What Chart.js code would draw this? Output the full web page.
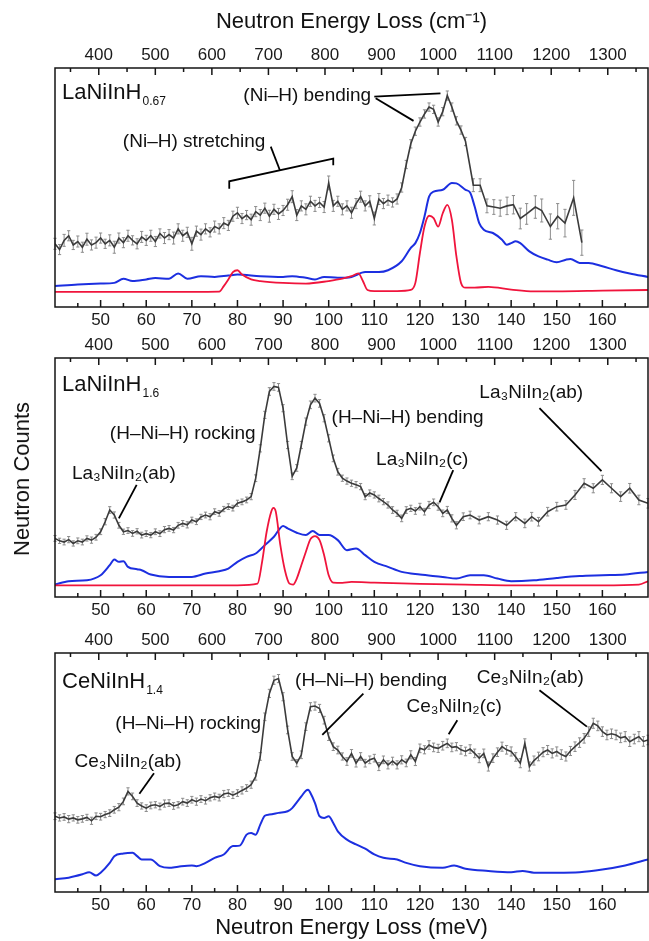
<!doctype html>
<html>

<head>
  <meta charset="utf-8">
  <title>INS spectra</title>
  <script src="https://cdn.jsdelivr.net/npm/chart.js"></script>
  <style>
    body { margin: 0; background: #fff; }
    #wrap { position: relative; width: 649px; height: 941px; overflow: hidden; }
    canvas { position: absolute; left: 0; }
    #ylab {
      position: absolute; left: 22px; top: 479px;
      transform: translate(-50%, -50%) rotate(-90deg);
      font: 22px "Liberation Sans", Arial, sans-serif; color: #111; white-space: nowrap;
    }
  </style>
</head>

<body>
<div id="wrap">
  <canvas id="c1" width="649" height="331" style="top:0px"></canvas>
  <canvas id="c2" width="649" height="291" style="top:331px"></canvas>
  <canvas id="c3" width="649" height="319" style="top:622px"></canvas>
  <div id="ylab">Neutron Counts</div>
</div>
<script>
    // axes
    const cmPerMeV = 8.0655;
    const meVTicks = [50, 60, 70, 80, 90, 100, 110, 120, 130, 140, 150, 160];
    const meVMinor = [45, 55, 65, 75, 85, 95, 105, 115, 125, 135, 145, 155, 165];
    const cmTicks = [400, 500, 600, 700, 800, 900, 1000, 1100, 1200, 1300];
    const cmMinor = [350, 450, 550, 650, 750, 850, 950, 1050, 1150, 1250, 1350];

    // ---- LaNiInH0.67 ----
    const exp1E = [40,41,42,43,44,45,46,47,48,49, 50,51,52,53,54,55,56,57,58,59,
        60,61,62,63,64,65,66,67,68,69, 70,71,72,73,74,75,76,77,78,79,
        80,81,82,83,84,85,86,87,88,89, 90,91,92,93,94,95,96,97,98,99,
        100,101,102,103,104,105,106,107,108,109, 110,111,112,113,114,115,116,117,118,119,
        120,121,122,123,124,125,126,127,128,129,130,
        131.7,133.2,134.7,136.2,137.6,139.1,140.5,142,143.4,145.3,146.7,148.6,150.2,151.8,153.7,155.5];
    const exp1V = [27.5,25,29,31,27,28.5,26,29.5,27,28, 30,27.5,29,26,30,28,31,29,27.5,30.5,
        29,31,28.5,32,30,31.5,30,34,31,32.5, 27.5,33,31.5,34,32.5,35,34,36.5,35.5,39.5,
        41,38.5,40,38,41.5,40,43,39.5,42.5,40.5, 42,44.5,48,40,44,42.5,46,44,45.5,43.5,
        54,44,46,42.5,44,41,45,48,44,46, 38.5,47,45,46.5,45.5,47,52,62,71,76.5,
        80.5,84,87,86,80.5,85,92,87,81,77,72,
        53,53,44,43.5,43,44,44.5,38.5,40.5,43.5,42,35,39.5,36.5,47.5,28];
    const exp1Err = [2.4,2.2,2.6,2.2,2.0,2.4,2.2,2.6,2.2,2.4, 2.2,2.0,2.4,2.6,2.2,2.2,2.4,2.0,2.2,2.4,
        2.2,2.4,2.2,2.0,2.4,2.2,2.6,2.2,2.4,2.2, 2.8,2.2,2.4,2.2,2.0,2.4,2.2,2.4,2.2,2.2,
        2.4,2.2,2.0,2.4,2.2,2.4,2.2,2.6,2.2,2.4, 2.2,2.4,2.6,2.4,2.2,2.4,2.2,2.4,2.2,2.4,
        3.0,2.4,2.2,2.4,2.2,2.4,2.2,2.4,2.2,2.4, 2.8,2.4,2.2,2.2,2.0,2.2,2.0,1.8,1.8,1.8,
        1.8,1.8,1.8,1.8,1.8,1.8,2.0,1.8,1.8,1.8,1.8,
        2.8,2.8,3.0,3.2,3.5,3.8,4.0,4.5,4.5,4.9,5.0,5.5,5.5,6.0,7.6,5.5];
    const calc1E = [40,45,50,53,55,57,60,62,65,67, 69,72,75,78,80,85,90,92,95,97,
        99,102,105,108,111,113,116,118,119,120, 121,122,123,125,127,128,130,131,132,133,
        134,136,138,139,140,141,142,144,146,148, 150,152,153,155,157,160,163,166,170];
    const calc1V = [9.1,9.8,10.2,10.5,12.3,11.3,12,12.6,12.3,14.6, 12.3,13.4,13.1,13.7,14.1,13.4,13.1,13.4,12.7,12,
        13.1,12.7,13.1,15.2,15.2,16,19.9,25.7,27.8,32.2, 39.4,48,50.2,51,54,53.8,51,49.8,43.7,36.5,
        33.6,32.2,29.3,27.1,27.8,28.6,27.8,24.2,22,20.6, 19.5,20.6,20.9,19.2,19.2,17.7,16,14.6,13.1];
    const dft1E = [40,50,60,70,76,77,78,79,80,81, 83,85,90,95,100,103,105,106.5,107.5,108.5,
        110,115,118,119,120,121,122,123,124,125, 126,127,128,129,130,132,135,140,145,150, 160,170];
    const dft1V = [6.6,6.6,6.6,6.6,6.7,9.1,12,15.2,16,14.1, 12,11.3,10.5,10.2,11.3,12.3,13.4,14.6,11.3,7.4,
        6.9,6.9,7.4,10.5,23.5,35,39.7,38.7,35,40.8, 44.4,38,22,10.5,8.4,8.4,8.8,7.6,6.8,6.8, 7.1,7.4];

    // ---- LaNiInH1.6 ----
    const exp2E = [40,41,42,43,44,45,46,47,48,49, 50,51,52,53,54,55,56,57,58,59,
        60,61,62,63,64,65,66,67,68,69, 70,71,72,73,74,75,76,77,78,79,
        80,81,82,83,84,85,86,87,88,89, 90,91,92,93,94,95,96,97,98,99,
        100,101,102,103,104,105,106,107,108,109, 110,111,112,113,114,115,116,117,118,119,
        120,121,122,123,124,125,126,127,128,
        129.5,131,133,135,137,139,141,143,144.5,146,148,150,152,154,156,158,160,162,164,166,168,170];
    const exp2V = [24.5,23.5,23,24,22.4,23.5,23,24.5,23.8,25, 27.3,31.5,36.4,34.3,30,27.3,27.8,26.6,27.5,25.9,
        26.5,25.9,27.3,26.5,28.2,28.7,28,30,30.8,30.2, 32.2,31.5,33.5,34.3,33.6,35.7,35,36.8,37.8,37.2,
        39.2,39.8,40.6,42,49.7,62.2,76.2,86,88.1,87.7, 79,63.6,50.5,54,63.6,73.4,80.4,83.2,81,74.8,
        66.4,58,52.4,49.7,48.5,47.6,47,46.2,42,43.5, 42.7,41.2,39.9,38.5,36.4,35,32.9,36.4,37.1,36,
        37.8,35.7,38.5,39.6,37.8,35,36.4,32.9,30,
        33.6,34.3,32.2,33.6,32.2,30,33.6,30.8,33.6,31.5,35.7,37.8,38.5,42.7,47.6,45.5,49,45.5,42,45.5,40.6,39.2];
    const exp2Err = [1.2,1.1,1.2,1.3,1.1,1.2,1.2,1.1,1.3,1.2, 1.2,1.3,1.4,1.3,1.2,1.1,1.2,1.2,1.1,1.2,
        1.2,1.1,1.2,1.2,1.3,1.2,1.1,1.2,1.2,1.3, 1.2,1.2,1.1,1.2,1.3,1.2,1.2,1.1,1.2,1.2,
        1.3,1.2,1.2,1.3,1.4,1.5,1.5,1.6,1.6,1.6, 1.5,1.5,1.4,1.4,1.5,1.5,1.6,1.6,1.6,1.5,
        1.5,1.4,1.4,1.3,1.3,1.3,1.3,1.3,1.3,1.3, 1.3,1.4,1.3,1.3,1.4,1.3,1.4,1.4,1.3,1.4,
        1.4,1.4,1.5,1.4,1.5,1.4,1.5,1.5,1.5,
        1.6,1.6,1.6,1.7,1.7,1.7,1.7,1.8,1.8,1.8,1.8,1.8,1.8,1.9,1.9,1.9,1.9,1.9,2.0,2.0,2.0,2.0];
    const calc2E = [40,43,47,50,52,53,54,55,56,58, 59,61,65,70,73,76,78,80,82,84,
        86,88,90,91,93,95,96.5,98,100,102, 104,106,108,110,113,116,120,125,128,131,
        134,137,140,145,150,155,160,165,170];
    const calc2V = [5.2,6.6,7,9.1,13.3,15.7,14.7,15,12.6,11.6, 11.2,9.4,8.4,8.4,9.8,10.8,11.9,14.7,16.8,18.2,
        21.7,25.2,29.7,28.7,26.9,25.9,27.6,25.9,25.9,23.8, 19.6,20.3,17.5,14.7,12.6,10.5,9.4,8.4,7.7,9.1,
        9.1,7.7,6.6,7,8,8.8,9.1,9.4,10.5];
    const dft2E = [40,60,80,84.4,85.4,86.4,87.4,87.9,88.4,89.4, 90.4,91.4,92.2,93,94,95,96,97,98,99,
        100,101,103,105,110,120,130,140,160,168, 170];
    const dft2V = [4.9,4.9,4.9,5.6,14.7,27.3,35.7,37.3,35.7,21.7, 11.2,5.6,5.2,7.7,13.3,18.9,24.2,25.5,23.8,17.5,
        9.1,6,5.9,6.3,6,5.5,5.2,4.9,4.9,5.2, 6.6];

    // ---- CeNiInH1.4 ----
    const exp3E = [40,41,42,43,44,45,46,47,48,49, 50,51,52,53,54,55,56,57,58,59,
        60,61,62,63,64,65,66,67,68,69, 70,71,72,73,74,75,76,77,78,79,
        80,81,82,83,84,85,86,87,88,89, 90,91,92,93,94,95,96,97,98,99,
        100,101,102,103,104,105,106,107,108,109, 110,111,112,113,114,115,116,117,118,119,
        120,121,122,123,124,125,126,127,128,129, 130,131,132,133,134,135,136,137,138,139,
        140,141,142,143,144,145,146,147,148,149, 150,151,152,153,154,155,156,157,158,159,
        160,161,162,163,164,165,166,167,168,169, 170];
    const exp3V = [31.7,31,31.4,30.5,31,30.2,30.6,31.2,29.8,31.7, 31.5,32.4,33,34.4,35.5,37.9,42.1,40,37.2,36,
        35.1,36.2,36.5,35.8,37,37.2,36,36.5,37.8,37.2, 38.6,37.8,38.9,38.2,39.4,40,39.5,41,41.4,40.5,
        41.4,42.5,43.5,44.9,48.3,56.7,73.3,83.1,88.6,89.3, 81.7,67.8,56.7,53.9,57.4,69.2,77.5,77.8,76.8,71.9,
        65,60.8,59.4,56.7,54.6,58,53.9,56.7,53.9,55.3, 56,52.5,55.3,53.2,54.8,53.2,55.3,54,57.4,54.6,
        60.1,59.5,61.5,60.5,60.1,61.2,62.2,60.5,60.8,59.5, 58.8,59.8,58,56,58,52.5,56,58.5,60.8,59.5,
        58.8,56.5,53.9,62.2,52.5,55,56.7,58.5,59.4,58, 58.8,57.5,56.7,59,60.8,62.5,64.3,67.1,70.6,69.5,
        67.1,65.7,66.2,65.7,64.5,65,62.9,64,65,63, 63.6];
    const exp3Err = [1.4,1.3,1.4,1.5,1.3,1.4,1.4,1.3,1.5,1.4, 1.4,1.3,1.4,1.4,1.5,1.4,1.5,1.4,1.4,1.3,
        1.4,1.4,1.3,1.4,1.5,1.4,1.4,1.3,1.4,1.4, 1.4,1.5,1.4,1.4,1.3,1.4,1.4,1.5,1.4,1.4,
        1.4,1.5,1.4,1.5,1.5,1.6,1.6,1.7,1.7,1.7, 1.7,1.6,1.6,1.5,1.6,1.6,1.7,1.7,1.7,1.6,
        1.6,1.6,1.6,1.5,1.6,1.6,1.6,1.6,1.6,1.6, 1.6,1.7,1.6,1.7,1.6,1.7,1.7,1.6,1.7,1.7,
        1.8,1.7,1.8,1.8,1.7,1.8,1.8,1.8,1.7,1.8, 1.8,1.8,1.8,1.9,1.8,1.9,1.8,1.8,1.9,1.8,
        1.9,1.8,1.9,1.9,1.9,1.9,1.8,1.9,1.9,1.9, 1.9,2.0,1.9,1.9,2.0,2.0,2.0,2.0,2.1,2.0,
        2.0,2.0,2.0,2.0,2.0,2.1,2.0,2.0,2.1,2.0, 2.0];
    const calc3E = [40,43,46,47.5,49,50,52,53,55,57, 58,59,61,63,65,67,70,71,73,75,
        77,79,80.5,82,83,84,85,86,87,89, 91,92,93,94,95,95.5,96,97,98,99,
        100,101,102,104,106,108,110,112,115,117, 120,125,127.5,130,135,140,142.5,145,150,155,
        160,165,170];
    const calc3V = [5.3,6,7.4,8.3,6.9,8.1,12.2,15,16.1,16.4, 15,13.6,13.6,10.8,10.1,10.6,11.1,10.8,12.2,14.3,
        15.7,19.2,19.4,24,24.7,24,28.2,31.9,32.4,33.1, 33.8,35.1,37.5,40,42.4,42.8,41.4,37.2,31.7,31,
        31.7,28.9,25.4,21.9,19.9,18.1,15.7,14.3,13.6,12.2, 10.8,10.1,11.1,9.7,8.8,8.3,8.8,8.1,8.1,8.3,
        9.4,11.1,13.6];

    // labels and leader lines, in (meV, counts) units
    const notes1 = [
        { text: '(Ni–H) bending', x: 95.3, y: 92 },
        { text: '(Ni–H) stretching', x: 70.5, y: 71.9 }
    ];
    const lines1 = [
        [[110, 91.5], [124.5, 93]],
        [[110.3, 90.8], [118.6, 81]],
        [[78.2, 51.5], [78.2, 54.7], [101, 64.6], [101, 61.7]],
        [[87.3, 69.8], [89.3, 59.5]]
    ];
    const notes2 = [
        { text: '(H–Ni–H) rocking', x: 68, y: 68.5 },
        { text: '(H–Ni–H) bending', x: 117.3, y: 74.8 },
        { text: 'La₃NiIn₂(ab)', x: 55.1, y: 51.7 },
        { text: 'La₃NiIn₂(c)', x: 120.5, y: 57.3 },
        { text: 'La₃NiIn₂(ab)', x: 144.4, y: 85.6 }
    ];
    const lines2 = [
        [[57.9, 46.9], [54, 32.9]],
        [[127.3, 53.1], [124.3, 39.6]],
        [[146.2, 79], [159.8, 52.7]]
    ];
    const notes3 = [
        { text: '(H–Ni–H) rocking', x: 69.2, y: 70.6 },
        { text: '(H–Ni–H) bending', x: 109.3, y: 88.2 },
        { text: 'Ce₃NiIn₂(ab)', x: 56, y: 54.6 },
        { text: 'Ce₃NiIn₂(c)', x: 127.5, y: 77.5 },
        { text: 'Ce₃NiIn₂(ab)', x: 144.2, y: 89.7 }
    ];
    const lines3 = [
        [[107.6, 83], [98.6, 65.7]],
        [[61.7, 49.7], [58.5, 41.1]],
        [[128.2, 71.9], [126.3, 66]],
        [[146.2, 84.4], [156.6, 69.2]]
    ];

    const FONT = '"Liberation Sans", Arial, sans-serif';
    Chart.defaults.font.family = FONT;

    const pts = (xs, ys) => xs.map((x, i) => ({ x: x, y: ys[i] }));

    function decor(cfg) {
        return {
            id: 'decor',
            beforeDatasetsDraw(chart) {
                const ctx = chart.ctx, xs = chart.scales.x, ys = chart.scales.y;
                ctx.save();
                ctx.strokeStyle = '#8c8c8c';
                ctx.lineWidth = 1;
                ctx.beginPath();
                cfg.expE.forEach((e, i) => {
                    const px = xs.getPixelForValue(e);
                    const y1 = ys.getPixelForValue(cfg.expV[i] - cfg.err[i]);
                    const y2 = ys.getPixelForValue(cfg.expV[i] + cfg.err[i]);
                    ctx.moveTo(px, y1); ctx.lineTo(px, y2);
                    ctx.moveTo(px - 1.6, y1); ctx.lineTo(px + 1.6, y1);
                    ctx.moveTo(px - 1.6, y2); ctx.lineTo(px + 1.6, y2);
                });
                ctx.stroke();
                ctx.restore();
            },
            afterDraw(chart) {
                const ctx = chart.ctx, a = chart.chartArea;
                const xs = chart.scales.x, x2 = chart.scales.x2, ys = chart.scales.y;
                ctx.save();
                // frame + inward ticks
                ctx.strokeStyle = '#151515';
                ctx.lineWidth = 1.5;
                ctx.strokeRect(a.left, a.top, a.right - a.left, a.bottom - a.top);
                ctx.beginPath();
                meVTicks.forEach(v => { const p = xs.getPixelForValue(v); ctx.moveTo(p, a.bottom); ctx.lineTo(p, a.bottom - 7); });
                meVMinor.forEach(v => { const p = xs.getPixelForValue(v); ctx.moveTo(p, a.bottom); ctx.lineTo(p, a.bottom - 4); });
                cmTicks.forEach(v => { const p = x2.getPixelForValue(v); ctx.moveTo(p, a.top); ctx.lineTo(p, a.top + 7); });
                cmMinor.forEach(v => { const p = x2.getPixelForValue(v); ctx.moveTo(p, a.top); ctx.lineTo(p, a.top + 4); });
                ctx.stroke();

                // sample name
                ctx.fillStyle = '#111';
                ctx.textBaseline = 'alphabetic';
                ctx.textAlign = 'left';
                ctx.font = '22px ' + FONT;
                ctx.fillText(cfg.sample[0], a.left + 7, a.top + cfg.nameY);
                const w = ctx.measureText(cfg.sample[0]).width;
                ctx.font = '12px ' + FONT;
                ctx.fillText(cfg.sample[1], a.left + 7 + w + 1, a.top + cfg.nameY + 6);

                // notes
                ctx.font = '19px ' + FONT;
                ctx.textAlign = 'center';
                ctx.textBaseline = 'middle';
                cfg.notes.forEach(n => ctx.fillText(n.text, xs.getPixelForValue(n.x), ys.getPixelForValue(n.y)));

                ctx.strokeStyle = '#000';
                ctx.lineWidth = 1.8;
                cfg.lines.forEach(l => {
                    ctx.beginPath();
                    l.forEach((p, i) => {
                        const px = xs.getPixelForValue(p[0]), py = ys.getPixelForValue(p[1]);
                        if (i === 0) ctx.moveTo(px, py); else ctx.lineTo(px, py);
                    });
                    ctx.stroke();
                });
                ctx.restore();
            }
        };
    }

    function panel(id, cfg) {
        const tickFont = { size: 17 };
        const datasets = [{
            data: pts(cfg.expE, cfg.expV),
            borderColor: '#3b3b3b', borderWidth: 1.6, pointRadius: 0, tension: 0
        }];
        if (cfg.dftE) datasets.push({
            data: pts(cfg.dftE, cfg.dftV),
            borderColor: '#f0143c', borderWidth: 1.8, pointRadius: 0, cubicInterpolationMode: 'monotone'
        });
        datasets.push({
            data: pts(cfg.calcE, cfg.calcV),
            borderColor: '#1c2fe0', borderWidth: 2, pointRadius: 0, cubicInterpolationMode: 'monotone'
        });
        return new Chart(document.getElementById(id), {
            type: 'line',
            data: { datasets: datasets },
            options: {
                responsive: false,
                animation: false,
                devicePixelRatio: 1,
                layout: { padding: { left: 55, right: 1, top: 0, bottom: 0 } },
                plugins: { legend: { display: false }, tooltip: { enabled: false } },
                scales: {
                    x: {
                        type: 'linear', position: 'bottom', min: 40, max: 170,
                        afterFit: s => { s.height = cfg.botH; },
                        afterBuildTicks: s => { s.ticks = meVTicks.map(v => ({ value: v })); },
                        grid: { display: false, drawTicks: false },
                        border: { display: false },
                        ticks: { font: tickFont, color: '#1a1a1a', padding: 3.5, maxRotation: 0, autoSkip: false, callback: v => String(v) },
                        title: {
                            display: !!cfg.botTitle, text: cfg.botTitle || '',
                            font: { size: 22 }, color: '#111', padding: { top: 0, bottom: 0 }
                        }
                    },
                    x2: {
                        type: 'linear', axis: 'x', position: 'top',
                        min: 40 * cmPerMeV, max: 170 * cmPerMeV,
                        afterFit: s => { s.height = cfg.topH; },
                        afterBuildTicks: s => { s.ticks = cmTicks.map(v => ({ value: v })); },
                        grid: { display: false, drawTicks: false },
                        border: { display: false },
                        ticks: { font: tickFont, color: '#1a1a1a', padding: 2.5, maxRotation: 0, autoSkip: false, callback: v => String(v) },
                        title: {
                            display: !!cfg.topTitle, text: cfg.topTitle || '',
                            font: { size: 22 }, color: '#111', padding: { top: 9, bottom: 0 }
                        }
                    },
                    y: { display: false, min: 0, max: cfg.yMax }
                }
            },
            plugins: [decor(cfg)]
        });
    }

    panel('c1', {
        expE: exp1E, expV: exp1V, err: exp1Err, calcE: calc1E, calcV: calc1V, dftE: dft1E, dftV: dft1V,
        sample: ['LaNiInH', '0.67'], nameY: 31, notes: notes1, lines: lines1,
        topH: 68, botH: 24, yMax: 104, topTitle: 'Neutron Energy Loss (cm⁻¹)'
    });
    panel('c2', {
        expE: exp2E, expV: exp2V, err: exp2Err, calcE: calc2E, calcV: calc2V, dftE: dft2E, dftV: dft2V,
        sample: ['LaNiInH', '1.6'], nameY: 33, notes: notes2, lines: lines2,
        topH: 27, botH: 25, yMax: 100
    });
    panel('c3', {
        expE: exp3E, expV: exp3V, err: exp3Err, calcE: calc3E, calcV: calc3V,
        sample: ['CeNiInH', '1.4'], nameY: 35, notes: notes3, lines: lines3,
        topH: 31, botH: 49, yMax: 100, botTitle: 'Neutron Energy Loss (meV)'
    });
</script>
</body>

</html>
